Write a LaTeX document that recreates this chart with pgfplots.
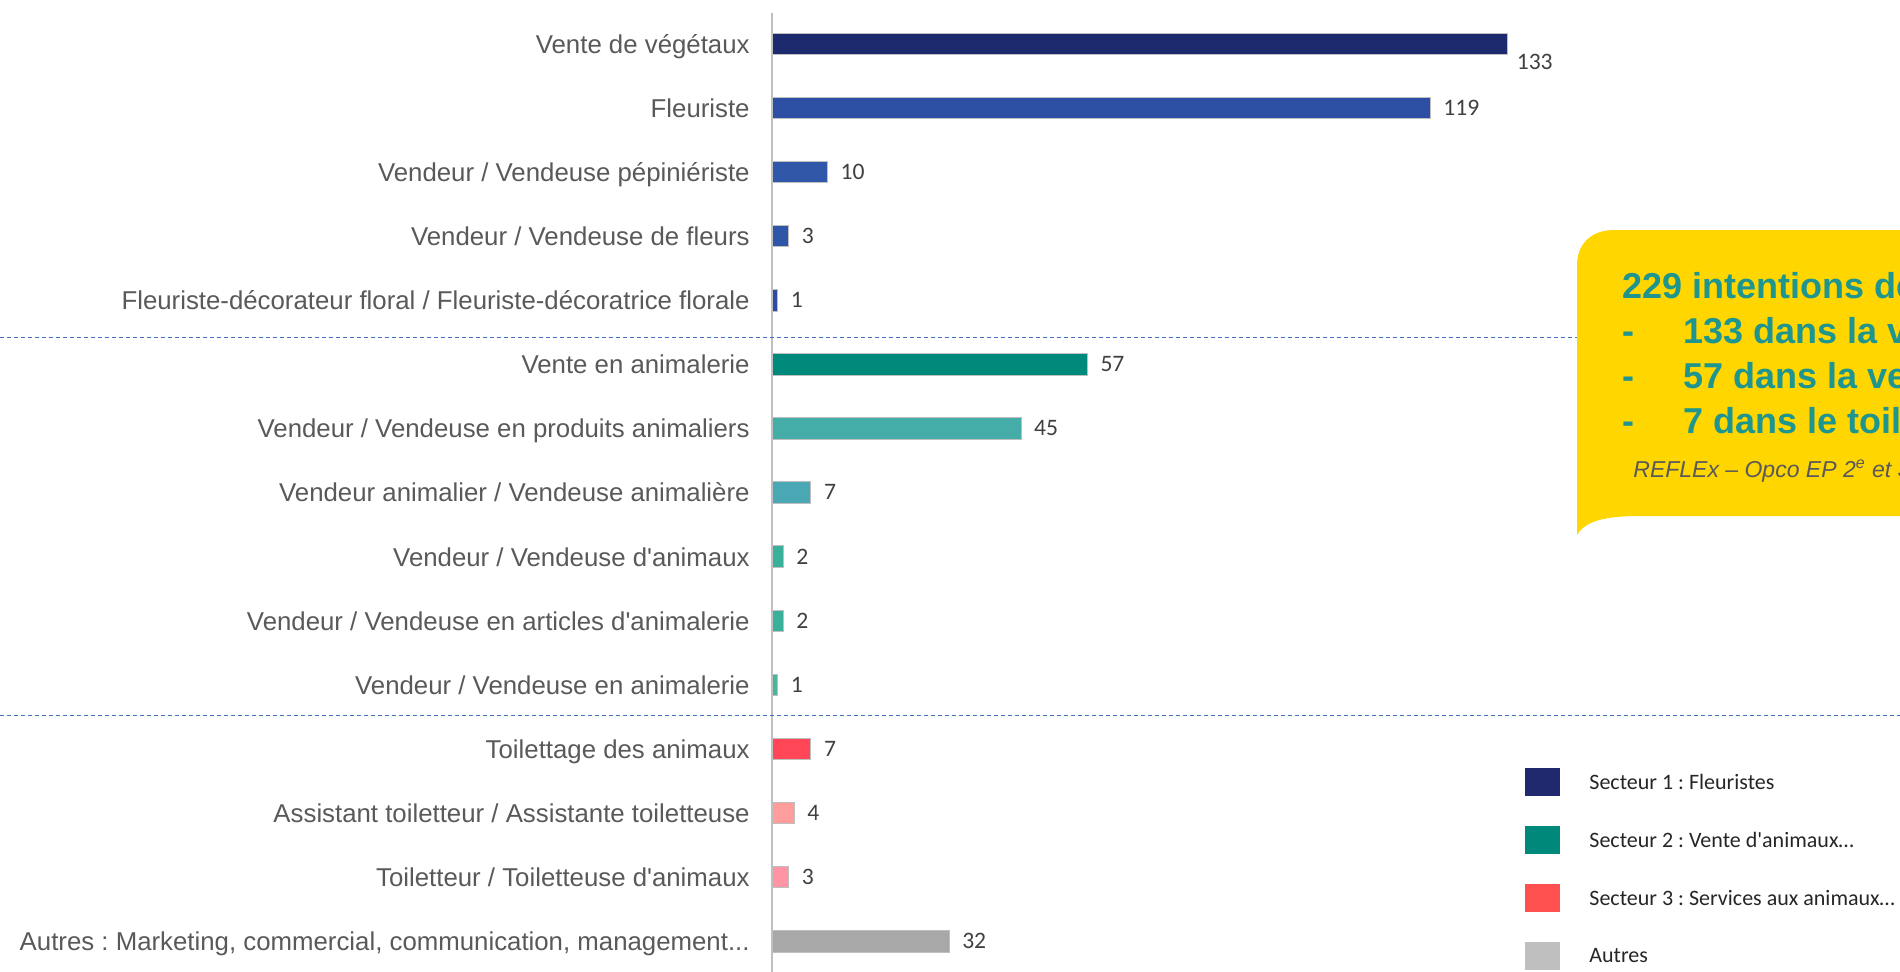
\documentclass[border=0pt]{standalone}
\usepackage{pgfplots}
\pgfplotsset{compat=1.18}
\usepackage{fontspec}
\setmainfont{Liberation Sans}
\newfontfamily\calibri{Carlito}
\frenchspacing
\definecolor{cA}{HTML}{1E2A6E}
\definecolor{cB}{HTML}{2C4FA3}
\definecolor{cC}{HTML}{3057A8}
\definecolor{cD}{HTML}{2F55A6}
\definecolor{cE}{HTML}{2E4BA3}
\definecolor{tA}{HTML}{008A7B}
\definecolor{tB}{HTML}{44ADA8}
\definecolor{tC}{HTML}{4AA8B5}
\definecolor{tD}{HTML}{38B09A}
\definecolor{tE}{HTML}{38B09A}
\definecolor{tF}{HTML}{49B699}
\definecolor{rA}{HTML}{FF4757}
\definecolor{rB}{HTML}{FF9C9C}
\definecolor{rC}{HTML}{FF94A4}
\definecolor{gA}{HTML}{A8A8A8}
\definecolor{lab}{HTML}{595959}
\definecolor{val}{HTML}{404040}
\definecolor{ybox}{HTML}{FFD600}
\definecolor{yteal}{HTML}{1E958E}
\definecolor{sepblue}{HTML}{4472C4}
\definecolor{legN}{HTML}{20286E}
\definecolor{legT}{HTML}{00897B}
\definecolor{legR}{HTML}{FF5050}
\definecolor{legG}{HTML}{BFBFBF}
\begin{document}
\frenchspacing
\begin{tikzpicture}
\clip (0,0) rectangle (950pt,-485.5pt);
\path[use as bounding box] (0,0) rectangle (950pt,-485.5pt);
\begin{axis}[
  at={(386pt,-5.8pt)}, anchor=north west,
  scale only axis, width=553pt, height=480.75pt,
  xbar, bar width=10.75pt, /pgf/bar shift=0pt,
  xmin=0, xmax=200, ymin=-0.5, ymax=14.5, y dir=reverse,
  hide x axis,
  axis line style={draw=none},
  clip=false,
  ytick={0,1,2,3,4,5,6,7,8,9,10,11,12,13,14},
  yticklabels={Vente de végétaux, Fleuriste, Vendeur / Vendeuse pépiniériste, Vendeur / Vendeuse de fleurs, Fleuriste-décorateur floral / Fleuriste-décoratrice florale, Vente en animalerie, Vendeur / Vendeuse en produits animaliers, Vendeur animalier / Vendeuse animalière, Vendeur / Vendeuse d\textquotesingle animaux, Vendeur / Vendeuse en articles d\textquotesingle animalerie, Vendeur / Vendeuse en animalerie, Toilettage des animaux, Assistant toiletteur / Assistante toiletteuse, Toiletteur / Toiletteuse d\textquotesingle animaux, {Autres : Marketing, commercial, communication, management.{}.{}.}},
  major tick length=0pt,
  yticklabel style={anchor=base east, inner sep=0pt, xshift=-11pt, yshift=-4.8pt, text=lab, font=\fontsize{12.9}{15}\selectfont\frenchspacing},
  /pgf/number format/assume math mode=true,
  nodes near coords,
  every node near coord/.append style={anchor=west, inner sep=0pt, xshift=6.5pt, text=val, font=\calibri\fontsize{11.8}{14}\selectfont},
]
\addplot[fill=cA, draw=black!25, line width=0.3pt, every node near coord/.append style={yshift=-9pt, xshift=-2pt}] coordinates {(133,0)};
\addplot[fill=cB, draw=black!25, line width=0.3pt] coordinates {(119,1)};
\addplot[fill=cC, draw=black!25, line width=0.3pt] coordinates {(10,2)};
\addplot[fill=cD, draw=black!25, line width=0.3pt] coordinates {(3,3)};
\addplot[fill=cE, draw=black!25, line width=0.3pt] coordinates {(1,4)};
\addplot[fill=tA, draw=black!25, line width=0.3pt] coordinates {(57,5)};
\addplot[fill=tB, draw=black!25, line width=0.3pt] coordinates {(45,6)};
\addplot[fill=tC, draw=black!25, line width=0.3pt] coordinates {(7,7)};
\addplot[fill=tD, draw=black!25, line width=0.3pt] coordinates {(2,8)};
\addplot[fill=tE, draw=black!25, line width=0.3pt] coordinates {(2,9)};
\addplot[fill=tF, draw=black!25, line width=0.3pt] coordinates {(1,10)};
\addplot[fill=rA, draw=black!25, line width=0.3pt] coordinates {(7,11)};
\addplot[fill=rB, draw=black!25, line width=0.3pt] coordinates {(4,12)};
\addplot[fill=rC, draw=black!25, line width=0.3pt] coordinates {(3,13)};
\addplot[fill=gA, draw=black!25, line width=0.3pt] coordinates {(32,14)};
\end{axis}
\begin{scope}[x=0.5pt,y=-0.5pt]
  % axis line
  \draw[color=black!25, line width=1.1pt] (772,13) -- (772,975);
  % separators
  \draw[sepblue, line width=0.5pt, dash pattern=on 2pt off 1.5pt] (0,337) -- (1900,337);
  \draw[sepblue, line width=0.5pt, dash pattern=on 2pt off 1.5pt] (0,715) -- (1900,715);
  % yellow callout
  \fill[ybox] (1577,535) -- (1577,265) .. controls (1577,245) and (1590,231) .. (1612,230) -- (1910,230) -- (1910,516) -- (1640,516) .. controls (1605,516) and (1585,521) .. (1577,535) -- cycle;
  \begin{scope}[every node/.style={inner sep=0pt, anchor=base west, text=yteal, font=\bfseries\fontsize{18}{20}\selectfont}]
    \node at (1622,298) {229 intentions de formation};
    \node at (1622,343) {-};
    \node at (1683,343) {133 dans la vente de végétaux};
    \node at (1622,388) {-};
    \node at (1683,388) {57 dans la vente d\textquotesingle animaux};
    \node at (1622,433) {-};
    \node at (1683,433) {7 dans le toilettage};
  \end{scope}
  \node[inner sep=0pt, anchor=base west, text=lab, font=\itshape\fontsize{11.5}{13}\selectfont] at (1633,477) {REFLEx – Opco EP 2\textsuperscript{e} et 3\textsuperscript{e} trimestres};
  % legend
  \fill[legN] (1525,768) rectangle (1560,796);
  \fill[legT] (1525,826) rectangle (1560,854);
  \fill[legR] (1525,884) rectangle (1560,912);
  \fill[legG] (1525,942) rectangle (1560,970);
  \begin{scope}[every node/.style={inner sep=0pt, anchor=west, text=black!85, font=\calibri\fontsize{11}{13}\selectfont}]
    \node at (1589,782) {Secteur 1 : Fleuristes};
    \node at (1589,840) {Secteur 2 : Vente d'animaux…};
    \node at (1589,898) {Secteur 3 : Services aux animaux…};
    \node at (1589,956) {Autres};
  \end{scope}
\end{scope}
\end{tikzpicture}
\end{document}
